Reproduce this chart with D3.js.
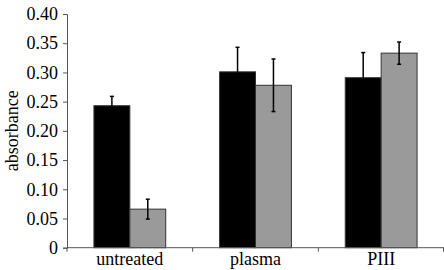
<!DOCTYPE html>
<html>
<head>
<meta charset="utf-8">
<script src="https://cdn.jsdelivr.net/npm/d3@7"></script>
<style>
  html, body { margin: 0; padding: 0; background: #fff; }
  svg text { font-family: 'Liberation Serif', 'DejaVu Serif', serif !important; }
</style>
</head>
<body>
<div id="root"></div>
<script>
// данные
const categories = ['untreated', 'plasma', 'PIII'];
const seriesNames = ['A', 'B'];
const seriesColors = ['#000000', '#9a9a9a'];
const valuesA = [0.243, 0.301, 0.291];
const errorsA = [0.016, 0.042, 0.043];
const valuesB = [0.066, 0.278, 0.333];
const errorsB = [0.017, 0.045, 0.019];
const yTicks = [0, 0.05, 0.10, 0.15, 0.20, 0.25, 0.30, 0.35, 0.40];

// геометрия
const width = 444, height = 270;
const x0 = 67, x1 = 444;
const yBottom = 247.7, yTop = 14;

const svg = d3.select('#root').append('svg')
  .attr('width', width)
  .attr('height', height);

const x = d3.scaleBand().domain(categories).range([x0, x1]).padding(0);
const xs = d3.scaleBand().domain(seriesNames).range([0, x.bandwidth()])
  .paddingInner(0).paddingOuter(0.75);
const y = d3.scaleLinear().domain([0, 0.4]).range([yBottom, yTop]);

const series = [
  { name: 'A', values: valuesA, errors: errorsA, color: seriesColors[0] },
  { name: 'B', values: valuesB, errors: errorsB, color: seriesColors[1] }
];

// столбцы
series.forEach(s => {
  categories.forEach((c, i) => {
    const bx = x(c) + xs(s.name);
    svg.append('rect')
      .attr('x', bx)
      .attr('y', y(s.values[i]))
      .attr('width', xs.bandwidth())
      .attr('height', y(0) - y(s.values[i]))
      .attr('fill', s.color)
      .attr('stroke', '#333')
      .attr('stroke-width', 1);
  });
});

// усы ошибок
series.forEach(s => {
  categories.forEach((c, i) => {
    const cx = x(c) + xs(s.name) + xs.bandwidth() / 2;
    const hi = y(s.values[i] + s.errors[i]);
    const lo = y(s.values[i] - s.errors[i]);
    svg.append('line').attr('x1', cx).attr('x2', cx).attr('y1', hi).attr('y2', lo)
      .attr('stroke', '#000').attr('stroke-width', 1.5);
    [hi, lo].forEach(yy => {
      svg.append('line').attr('x1', cx - 2).attr('x2', cx + 2).attr('y1', yy).attr('y2', yy)
        .attr('stroke', '#000').attr('stroke-width', 1.5);
    });
  });
});

// ось Y
const gy = svg.append('g')
  .attr('transform', `translate(${x0},0)`)
  .call(d3.axisLeft(y).tickValues(yTicks).tickSize(4).tickPadding(5)
    .tickFormat(d => d === 0 ? '0' : d3.format('.2f')(d)));
gy.attr('font-size', 18);
gy.select('.domain').attr('stroke', '#555');
gy.selectAll('.tick line').attr('stroke', '#555');
gy.selectAll('text').attr('fill', '#000');

// ось X
const gx = svg.append('g')
  .attr('transform', `translate(0,${yBottom})`);
gx.append('line').attr('x1', x0).attr('x2', x1).attr('y1', 0).attr('y2', 0)
  .attr('stroke', '#555');
categories.concat(['_end']).forEach((c, i) => {
  const tx = i < categories.length ? x(c) : x1 - 0.5;
  gx.append('line').attr('x1', tx).attr('x2', tx).attr('y1', 0).attr('y2', 4)
    .attr('stroke', '#555');
});
categories.forEach(c => {
  gx.append('text')
    .attr('x', x(c) + x.bandwidth() / 2)
    .attr('y', 17.5)
    .attr('text-anchor', 'middle')
    .attr('font-size', 18)
    .text(c);
});

// подпись оси Y
svg.append('text')
  .attr('transform', `translate(18,${(yBottom + yTop) / 2}) rotate(-90)`)
  .attr('text-anchor', 'middle')
  .attr('font-size', 18)
  .text('absorbance');
</script>
</body>
</html>
